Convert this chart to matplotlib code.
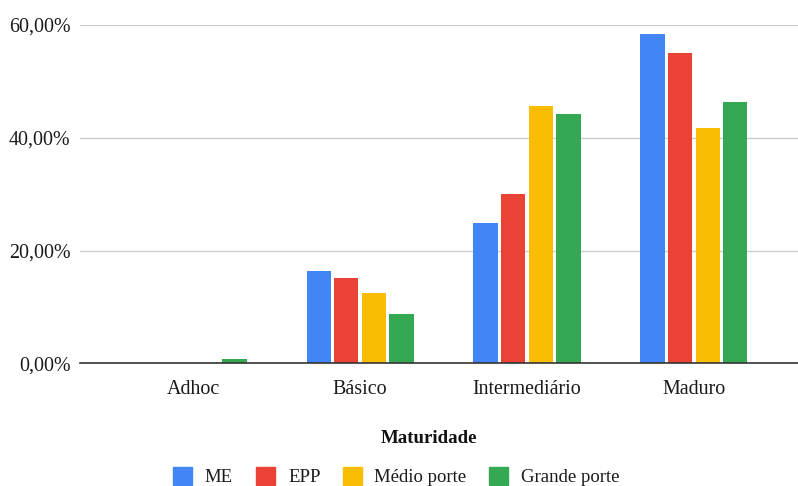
import matplotlib.pyplot as plt
from matplotlib.patches import Rectangle
from matplotlib.ticker import FuncFormatter

plt.rcParams["font.family"] = ["Liberation Serif", "DejaVu Serif"]

categories = ["Adhoc", "Básico", "Intermediário", "Maduro"]
series = ["ME", "EPP", "Médio porte", "Grande porte"]
me = [0.0, 16.4, 24.8, 58.4]
epp = [0.0, 15.1, 30.0, 55.0]
medio = [0.0, 12.4, 45.7, 41.7]
grande = [0.7, 8.7, 44.3, 46.3]
values = [me, epp, medio, grande]
colors = ["#4285F4", "#EA4335", "#FBBC04", "#34A853"]

W, H = 798, 486
fig = plt.figure(figsize=(W / 100, H / 100), dpi=100)
ax = fig.add_axes([80 / W, (H - 363.3) / H, 718 / W, 338.3 / H])

step = 0.165
width = 0.146
for i, (vals, c) in enumerate(zip(values, colors)):
    xs = [k + (i - 1.5) * step for k in range(len(categories))]
    ax.bar(xs, vals, width=width, color=c, zorder=3)

ax.set_xlim(-0.677, 3.623)
ax.set_ylim(0, 60)
ax.set_yticks([0, 20, 40, 60])
ax.yaxis.set_major_formatter(FuncFormatter(lambda v, _: f"{v:.2f}%".replace(".", ",")))
ax.set_xticks(range(len(categories)))
ax.set_xticklabels(categories)
ax.tick_params(axis="both", length=0, labelsize=14.4, colors="#1a1a1a")
ax.tick_params(axis="y", pad=7)
ax.tick_params(axis="x", pad=12)
ax.grid(axis="y", color="#cccccc", linewidth=1, zorder=0)
for s in ["top", "right", "left"]:
    ax.spines[s].set_visible(False)
ax.spines["bottom"].set_color("#333333")
ax.spines["bottom"].set_linewidth(1.2)
ax.spines["bottom"].set_zorder(4)

fig.text(429 / W, (H - 438) / H, "Maturidade", ha="center", va="center",
         fontsize=13.6, fontweight="bold", color="#111111")

# legend row along the bottom
sq_x = [173, 256, 343, 489]
txt_x = [204, 288, 374, 521]
for sx, tx, name, c in zip(sq_x, txt_x, series, colors):
    fig.patches.append(Rectangle((sx / W, (H - 485) / H), 18.5 / W, 18 / H,
                                 transform=fig.transFigure, color=c))
    fig.text(tx / W, (H - 477) / H, name, ha="left", va="center",
             fontsize=13.5, color="#1a1a1a")

fig.savefig("out.png", dpi=100)
